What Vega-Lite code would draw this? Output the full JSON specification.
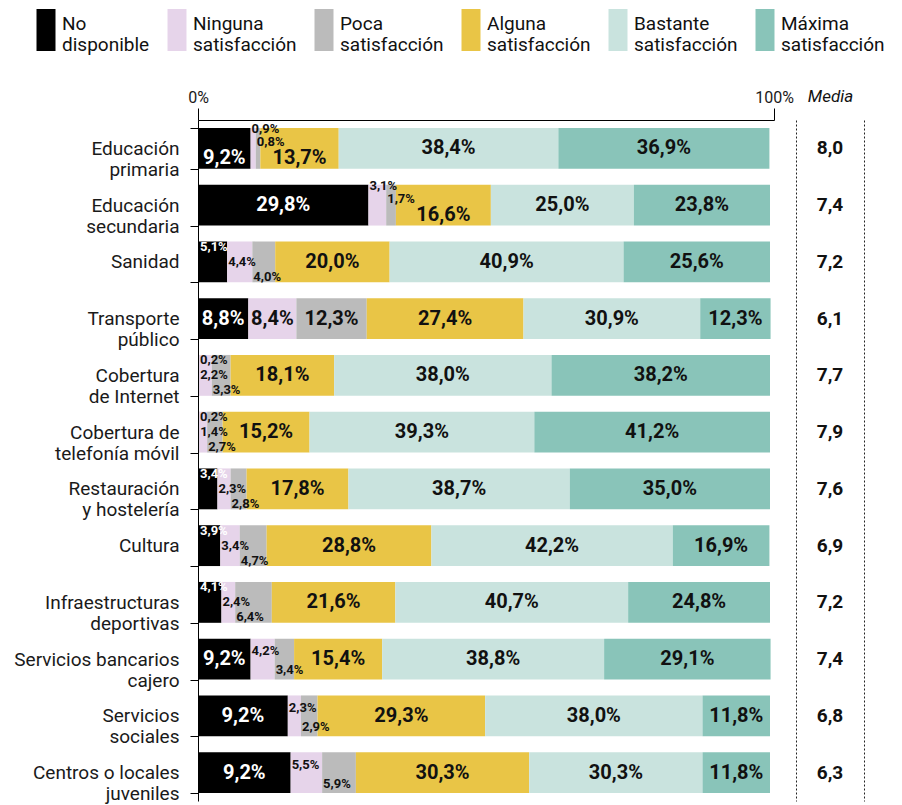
{
  "$schema": "https://vega.github.io/schema/vega-lite/v6.json",
  "padding": {"left": 13, "top": 20, "right": 0, "bottom": 0},
  "background": "white",
  "config": {"font": "Roboto", "view": {"stroke": null}},
  "datasets": {
    "bars": [
      {"c": "Educación\nprimaria", "n": "No disponible", "v": 9.2, "l": 9.2},
      {"c": "Educación\nprimaria", "n": "Ninguna satisfacción", "v": 0.9, "l": 0.9},
      {"c": "Educación\nprimaria", "n": "Poca satisfacción", "v": 0.8, "l": 0.8},
      {"c": "Educación\nprimaria", "n": "Alguna satisfacción", "v": 13.7, "l": 13.7},
      {"c": "Educación\nprimaria", "n": "Bastante satisfacción", "v": 38.4, "l": 38.4},
      {"c": "Educación\nprimaria", "n": "Máxima satisfacción", "v": 36.9, "l": 36.9},
      {"c": "Educación\nsecundaria", "n": "No disponible", "v": 29.8, "l": 29.8},
      {"c": "Educación\nsecundaria", "n": "Ninguna satisfacción", "v": 3.1, "l": 3.1},
      {"c": "Educación\nsecundaria", "n": "Poca satisfacción", "v": 1.7, "l": 1.7},
      {"c": "Educación\nsecundaria", "n": "Alguna satisfacción", "v": 16.6, "l": 16.6},
      {"c": "Educación\nsecundaria", "n": "Bastante satisfacción", "v": 25.0, "l": 25.0},
      {"c": "Educación\nsecundaria", "n": "Máxima satisfacción", "v": 23.8, "l": 23.8},
      {"c": "Sanidad", "n": "No disponible", "v": 5.1, "l": 5.1},
      {"c": "Sanidad", "n": "Ninguna satisfacción", "v": 4.4, "l": 4.4},
      {"c": "Sanidad", "n": "Poca satisfacción", "v": 4.0, "l": 4.0},
      {"c": "Sanidad", "n": "Alguna satisfacción", "v": 20.0, "l": 20.0},
      {"c": "Sanidad", "n": "Bastante satisfacción", "v": 40.9, "l": 40.9},
      {"c": "Sanidad", "n": "Máxima satisfacción", "v": 25.6, "l": 25.6},
      {"c": "Transporte\npúblico", "n": "No disponible", "v": 8.8, "l": 8.8},
      {"c": "Transporte\npúblico", "n": "Ninguna satisfacción", "v": 8.4, "l": 8.4},
      {"c": "Transporte\npúblico", "n": "Poca satisfacción", "v": 12.3, "l": 12.3},
      {"c": "Transporte\npúblico", "n": "Alguna satisfacción", "v": 27.4, "l": 27.4},
      {"c": "Transporte\npúblico", "n": "Bastante satisfacción", "v": 30.9, "l": 30.9},
      {"c": "Transporte\npúblico", "n": "Máxima satisfacción", "v": 12.3, "l": 12.3},
      {"c": "Cobertura\nde Internet", "n": "No disponible", "v": 0.2, "l": 0.2},
      {"c": "Cobertura\nde Internet", "n": "Ninguna satisfacción", "v": 2.2, "l": 2.2},
      {"c": "Cobertura\nde Internet", "n": "Poca satisfacción", "v": 3.3, "l": 3.3},
      {"c": "Cobertura\nde Internet", "n": "Alguna satisfacción", "v": 18.1, "l": 18.1},
      {"c": "Cobertura\nde Internet", "n": "Bastante satisfacción", "v": 38.0, "l": 38.0},
      {"c": "Cobertura\nde Internet", "n": "Máxima satisfacción", "v": 38.2, "l": 38.2},
      {"c": "Cobertura de\ntelefonía móvil", "n": "No disponible", "v": 0.2, "l": 0.2},
      {"c": "Cobertura de\ntelefonía móvil", "n": "Ninguna satisfacción", "v": 1.4, "l": 1.4},
      {"c": "Cobertura de\ntelefonía móvil", "n": "Poca satisfacción", "v": 2.7, "l": 2.7},
      {"c": "Cobertura de\ntelefonía móvil", "n": "Alguna satisfacción", "v": 15.2, "l": 15.2},
      {"c": "Cobertura de\ntelefonía móvil", "n": "Bastante satisfacción", "v": 39.3, "l": 39.3},
      {"c": "Cobertura de\ntelefonía móvil", "n": "Máxima satisfacción", "v": 41.2, "l": 41.2},
      {"c": "Restauración\ny hostelería", "n": "No disponible", "v": 3.4, "l": 3.4},
      {"c": "Restauración\ny hostelería", "n": "Ninguna satisfacción", "v": 2.3, "l": 2.3},
      {"c": "Restauración\ny hostelería", "n": "Poca satisfacción", "v": 2.8, "l": 2.8},
      {"c": "Restauración\ny hostelería", "n": "Alguna satisfacción", "v": 17.8, "l": 17.8},
      {"c": "Restauración\ny hostelería", "n": "Bastante satisfacción", "v": 38.7, "l": 38.7},
      {"c": "Restauración\ny hostelería", "n": "Máxima satisfacción", "v": 35.0, "l": 35.0},
      {"c": "Cultura", "n": "No disponible", "v": 3.9, "l": 3.9},
      {"c": "Cultura", "n": "Ninguna satisfacción", "v": 3.4, "l": 3.4},
      {"c": "Cultura", "n": "Poca satisfacción", "v": 4.7, "l": 4.7},
      {"c": "Cultura", "n": "Alguna satisfacción", "v": 28.8, "l": 28.8},
      {"c": "Cultura", "n": "Bastante satisfacción", "v": 42.2, "l": 42.2},
      {"c": "Cultura", "n": "Máxima satisfacción", "v": 16.9, "l": 16.9},
      {"c": "Infraestructuras\ndeportivas", "n": "No disponible", "v": 4.1, "l": 4.1},
      {"c": "Infraestructuras\ndeportivas", "n": "Ninguna satisfacción", "v": 2.4, "l": 2.4},
      {"c": "Infraestructuras\ndeportivas", "n": "Poca satisfacción", "v": 6.4, "l": 6.4},
      {"c": "Infraestructuras\ndeportivas", "n": "Alguna satisfacción", "v": 21.6, "l": 21.6},
      {"c": "Infraestructuras\ndeportivas", "n": "Bastante satisfacción", "v": 40.7, "l": 40.7},
      {"c": "Infraestructuras\ndeportivas", "n": "Máxima satisfacción", "v": 24.8, "l": 24.8},
      {"c": "Servicios bancarios\ncajero", "n": "No disponible", "v": 9.2, "l": 9.2},
      {"c": "Servicios bancarios\ncajero", "n": "Ninguna satisfacción", "v": 4.2, "l": 4.2},
      {"c": "Servicios bancarios\ncajero", "n": "Poca satisfacción", "v": 3.4, "l": 3.4},
      {"c": "Servicios bancarios\ncajero", "n": "Alguna satisfacción", "v": 15.4, "l": 15.4},
      {"c": "Servicios bancarios\ncajero", "n": "Bastante satisfacción", "v": 38.8, "l": 38.8},
      {"c": "Servicios bancarios\ncajero", "n": "Máxima satisfacción", "v": 29.1, "l": 29.1},
      {"c": "Servicios\nsociales", "n": "No disponible", "v": 15.7, "l": 9.2},
      {"c": "Servicios\nsociales", "n": "Ninguna satisfacción", "v": 2.3, "l": 2.3},
      {"c": "Servicios\nsociales", "n": "Poca satisfacción", "v": 2.9, "l": 2.9},
      {"c": "Servicios\nsociales", "n": "Alguna satisfacción", "v": 29.3, "l": 29.3},
      {"c": "Servicios\nsociales", "n": "Bastante satisfacción", "v": 38.0, "l": 38.0},
      {"c": "Servicios\nsociales", "n": "Máxima satisfacción", "v": 11.8, "l": 11.8},
      {"c": "Centros o locales\njuveniles", "n": "No disponible", "v": 16.2, "l": 9.2},
      {"c": "Centros o locales\njuveniles", "n": "Ninguna satisfacción", "v": 5.5, "l": 5.5},
      {"c": "Centros o locales\njuveniles", "n": "Poca satisfacción", "v": 5.9, "l": 5.9},
      {"c": "Centros o locales\njuveniles", "n": "Alguna satisfacción", "v": 30.3, "l": 30.3},
      {"c": "Centros o locales\njuveniles", "n": "Bastante satisfacción", "v": 30.3, "l": 30.3},
      {"c": "Centros o locales\njuveniles", "n": "Máxima satisfacción", "v": 11.8, "l": 11.8}
    ],
    "media": [
      {"c": "Educación\nprimaria", "m": 8.0},
      {"c": "Educación\nsecundaria", "m": 7.4},
      {"c": "Sanidad", "m": 7.2},
      {"c": "Transporte\npúblico", "m": 6.1},
      {"c": "Cobertura\nde Internet", "m": 7.7},
      {"c": "Cobertura de\ntelefonía móvil", "m": 7.9},
      {"c": "Restauración\ny hostelería", "m": 7.6},
      {"c": "Cultura", "m": 6.9},
      {"c": "Infraestructuras\ndeportivas", "m": 7.2},
      {"c": "Servicios bancarios\ncajero", "m": 7.4},
      {"c": "Servicios\nsociales", "m": 6.8},
      {"c": "Centros o locales\njuveniles", "m": 6.3}
    ]
  },
  "spacing": 22,
  "bounds": "flush",
  "hconcat": [
    {
      "width": 576,
      "height": 681,
      "data": {"name": "bars"},
      "transform": [
        {"calculate": "indexof(['No disponible','Ninguna satisfacción','Poca satisfacción','Alguna satisfacción','Bastante satisfacción','Máxima satisfacción'], datum.n)", "as": "idx"},
        {"stack": "v", "groupby": ["c"], "sort": [{"field": "idx", "order": "ascending"}], "as": ["x0", "x1"]},
        {"calculate": "datum.v < 8 ? 1 : 0", "as": "small"},
        {"calculate": "datum.small * datum.v", "as": "sv"},
        {"joinaggregate": [{"op": "sum", "field": "small", "as": "ns"}, {"op": "sum", "field": "sv", "as": "ss"}], "groupby": ["c"]},
        {"window": [{"op": "sum", "field": "small", "as": "ks"}], "groupby": ["c"], "sort": [{"field": "idx", "order": "ascending"}], "frame": [null, 0]},
        {"calculate": "datum.small ? (datum.ns == 3 ? (datum.ks == 1 ? -15 : (datum.ks == 2 ? 0 : 15)) : (datum.ss < 5 ? (datum.ks == 1 ? -19 : -6) : (datum.ks == 1 ? -8 : 11))) : ((datum.ns == 2 && datum.ss < 5 && (datum.idx == 3 || (datum.idx == 0 && datum.v < 10))) ? 10 : 0)", "as": "dy"},
        {"calculate": "datum.small ? datum.x0 : (datum.x0 + datum.x1) / 2", "as": "lx"},
        {"calculate": "replace(format(datum.l, '.1f'), '.', ',') + '%'", "as": "txt"}
      ],
      "encoding": {
        "y": {
          "field": "c", "type": "nominal", "sort": null,
          "scale": {"paddingInner": 0.28, "paddingOuter": 0.14},
          "axis": {
            "title": null, "orient": "left", "domain": true, "domainColor": "#000", "domainWidth": 1,
            "ticks": true, "tickBand": "extent", "tickSize": 8, "tickColor": "#000", "tickWidth": 1,
            "labelFontSize": 19, "labelColor": "#1a1a1a", "labelPadding": 11, "labelLimit": 300,
            "labelLineHeight": 21, "labelExpr": "split(datum.label, '\\n')"
          }
        }
      },
      "layer": [
        {
          "mark": {"type": "bar"},
          "encoding": {
            "x": {
              "field": "x0", "type": "quantitative", "scale": {"domain": [0, 100.7], "nice": false, "zero": true},
              "axis": {"orient": "top", "title": null, "values": [0, 100.7], "labelExpr": "datum.value < 50 ? '0%' : '100%'", "labelFlush": false, "grid": false, "domainColor": "#000", "tickColor": "#000", "tickSize": 12, "labelPadding": 3, "labelFontSize": 16, "labelColor": "#1a1a1a"}
            },
            "x2": {"field": "x1"},
            "color": {
              "field": "n", "type": "nominal",
              "scale": {
                "domain": ["No disponible", "Ninguna satisfacción", "Poca satisfacción", "Alguna satisfacción", "Bastante satisfacción", "Máxima satisfacción"],
                "range": ["#000000", "#e6d4ea", "#bbbbbb", "#e9c546", "#c9e3de", "#89c4b9"]
              },
              "legend": {
                "orient": "none", "legendX": -162, "legendY": -100, "direction": "horizontal", "columns": 6,
                "title": null, "symbolType": "M-0.95,-2.1L0.95,-2.1L0.95,2.1L-0.95,2.1Z", "symbolSize": 400,
                "symbolStrokeWidth": 0, "labelFontSize": 19, "labelColor": "#111", "labelOffset": 6, "columnPadding": 17,
                "labelLimit": 300, "labelBaseline": "middle",
                "labelExpr": "[substring(datum.label, 0, indexof(datum.label, ' ')), substring(datum.label, indexof(datum.label, ' ') + 1)]",
                "encode": {
                  "symbols": {"update": {"fill": {"signal": "datum.value === 'Ninguna satisfacción' ? '#cba6cf' : scale('color', datum.value)"}, "opacity": {"value": 1}}},
                  "labels": {"update": {"lineHeight": {"value": 21}, "dy": {"value": -6}}}
                }
              }
            }
          }
        },
        {
          "mark": {
            "type": "text", "baseline": "middle", "fontWeight": "bold",
            "align": {"expr": "datum.small ? 'left' : 'center'"},
            "dx": {"expr": "datum.small ? (datum.idx == 0 ? 2 : 1) : 0"},
            "dy": {"expr": "datum.dy"}
          },
          "encoding": {
            "x": {
              "field": "lx", "type": "quantitative", "scale": {"domain": [0, 100.7], "nice": false, "zero": true},
              "axis": {"orient": "top", "title": null, "values": [0, 100.7], "labelExpr": "datum.value < 50 ? '0%' : '100%'", "labelFlush": false, "grid": false, "domainColor": "#000", "tickColor": "#000", "tickSize": 12, "labelPadding": 3, "labelFontSize": 16, "labelColor": "#1a1a1a"}
            },
            "text": {"field": "txt"},
            "size": {"condition": {"test": "datum.small == 1", "value": 13}, "value": 20},
            "color": {"condition": {"test": "datum.idx == 0 && datum.v >= 1", "value": "#ffffff"}, "value": "#111111"}
          }
        }
      ]
    },
    {
      "width": 68,
      "height": 681,
      "data": {"name": "media"},
      "transform": [
        {"calculate": "replace(format(datum.m, '.1f'), '.', ',')", "as": "mtxt"}
      ],
      "encoding": {
        "x": {"datum": "Media", "type": "nominal",
          "axis": {"orient": "top", "title": null, "domain": false, "ticks": false, "labelPadding": 15, "labelFontSize": 17, "labelFontStyle": "italic", "labelColor": "#111", "labelAngle": 0}}
      },
      "layer": [
        {
          "mark": {"type": "text", "fontWeight": "bold", "fontSize": 19, "color": "#111", "baseline": "middle"},
          "encoding": {
            "y": {"field": "c", "type": "nominal", "sort": null, "scale": {"paddingInner": 0.28, "paddingOuter": 0.14},
              "axis": {"orient": "left", "title": null, "labels": false, "ticks": false, "domain": true, "domainDash": [2, 2], "domainColor": "#222", "domainWidth": 1}},
            "text": {"field": "mtxt"}
          }
        },
        {
          "mark": {"type": "text", "opacity": 0},
          "encoding": {
            "y": {"field": "c", "type": "nominal", "sort": null, "scale": {"paddingInner": 0.28, "paddingOuter": 0.14},
              "axis": {"orient": "right", "title": null, "labels": false, "ticks": false, "domain": true, "domainDash": [2, 2], "domainColor": "#222", "domainWidth": 1}},
            "text": {"field": "mtxt"}
          }
        }
      ],
      "resolve": {"axis": {"y": "independent"}}
    }
  ]
}
